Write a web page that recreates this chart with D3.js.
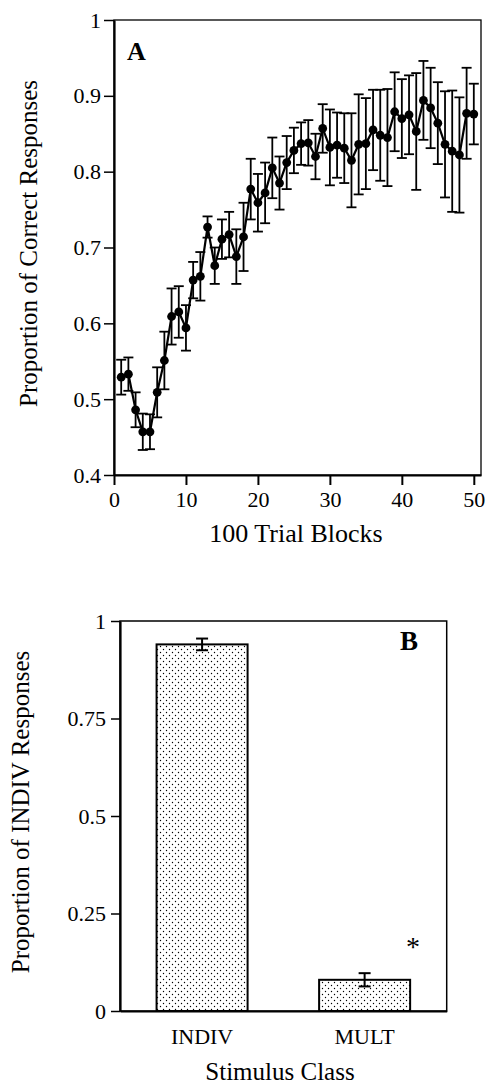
<!DOCTYPE html>
<html>
<head>
<meta charset="utf-8">
<script src="https://cdn.jsdelivr.net/npm/d3@7"></script>
<style>
  body { margin: 0; background: #fff; }
  svg text { font-family: "Liberation Serif", "Times New Roman", serif; fill: #000; }
  .axis path, .axis line { stroke: #000; }
</style>
</head>
<body>
<div id="chart"></div>
<script>
// panel A: proportion correct per 100-trial block (mean, error)
const blocks = d3.range(1, 51);
const correct = [0.529, 0.533, 0.486, 0.457, 0.457, 0.509, 0.551, 0.609, 0.615, 0.594,
  0.657, 0.662, 0.727, 0.676, 0.711, 0.717, 0.688, 0.714, 0.777, 0.759,
  0.772, 0.805, 0.785, 0.812, 0.828, 0.837, 0.838, 0.82, 0.857, 0.832,
  0.835, 0.831, 0.815, 0.836, 0.837, 0.855, 0.848, 0.845, 0.879, 0.87,
  0.875, 0.853, 0.894, 0.884, 0.864, 0.836, 0.827, 0.822, 0.877, 0.876];
const correctErr = [0.023, 0.022, 0.023, 0.024, 0.023, 0.033, 0.038, 0.037, 0.034, 0.03,
  0.024, 0.032, 0.014, 0.024, 0.026, 0.03, 0.036, 0.045, 0.04, 0.038,
  0.04, 0.04, 0.035, 0.035, 0.03, 0.028, 0.03, 0.03, 0.032, 0.05,
  0.043, 0.046, 0.062, 0.066, 0.06, 0.053, 0.06, 0.064, 0.052, 0.052,
  0.052, 0.077, 0.052, 0.053, 0.054, 0.07, 0.08, 0.076, 0.06, 0.04];
const xTicksA = [0, 10, 20, 30, 40, 50];
const yTicksA = [0.4, 0.5, 0.6, 0.7, 0.8, 0.9, 1];

// panel B: proportion of INDIV responses by stimulus class
const classes = ['INDIV', 'MULT'];
const indivProp = [0.94, 0.08];
const indivErr = [0.015, 0.017];
const yTicksB = [0, 0.25, 0.5, 0.75, 1];

const svg = d3.select('#chart').append('svg')
    .attr('width', 487)
    .attr('height', 1089);

const defs = svg.append('defs');
const pat = defs.append('pattern')
    .attr('id', 'dots')
    .attr('patternUnits', 'userSpaceOnUse')
    .attr('width', 6)
    .attr('height', 6);
pat.append('rect').attr('width', 6).attr('height', 6).attr('fill', '#fff');
pat.append('circle').attr('cx', 1.5).attr('cy', 1.5).attr('r', 0.7).attr('fill', '#000');
pat.append('circle').attr('cx', 4.5).attr('cy', 4.5).attr('r', 0.7).attr('fill', '#000');

// ---------- panel A ----------
const xA = d3.scaleLinear().domain([0, 51]).range([114, 481]);
const yA = d3.scaleLinear().domain([0.4, 1]).range([475, 20]);

svg.append('rect')
    .attr('x', xA(0)).attr('y', yA(1))
    .attr('width', xA(51) - xA(0)).attr('height', yA(0.4) - yA(1))
    .attr('fill', 'none').attr('stroke', '#000').attr('stroke-width', 1.3);

const xAxisA = svg.append('g')
    .attr('class', 'axis')
    .attr('transform', `translate(0, ${yA(0.4)})`)
    .call(d3.axisBottom(xA).tickValues(xTicksA).tickSize(10).tickPadding(6).tickSizeOuter(0));
xAxisA.select('.domain').attr('stroke-width', 2.2);
xAxisA.selectAll('line').attr('stroke-width', 2);
xAxisA.selectAll('text').attr('font-size', 22);

const yAxisA = svg.append('g')
    .attr('class', 'axis')
    .attr('transform', `translate(${xA(0)}, 0)`)
    .call(d3.axisLeft(yA).tickValues(yTicksA).tickFormat(d3.format('')).tickSize(10).tickPadding(3).tickSizeOuter(0));
yAxisA.select('.domain').attr('stroke-width', 2.2);
yAxisA.selectAll('line').attr('stroke-width', 1.5);
yAxisA.selectAll('text').attr('font-size', 22);

const dataA = blocks.map((b, i) => ({b: b, m: correct[i], e: correctErr[i]}));

const errA = svg.append('g').attr('stroke', '#000').attr('stroke-width', 1.8);
dataA.forEach(d => {
  errA.append('line')
      .attr('x1', xA(d.b)).attr('x2', xA(d.b))
      .attr('y1', yA(d.m - d.e)).attr('y2', yA(d.m + d.e));
  [d.m - d.e, d.m + d.e].forEach(v => {
    errA.append('line')
        .attr('x1', xA(d.b) - 5).attr('x2', xA(d.b) + 5)
        .attr('y1', yA(v)).attr('y2', yA(v));
  });
});

svg.append('path')
    .datum(dataA)
    .attr('fill', 'none')
    .attr('stroke', '#000')
    .attr('stroke-width', 2.2)
    .attr('d', d3.line().x(d => xA(d.b)).y(d => yA(d.m)));

svg.selectAll('circle.pt')
    .data(dataA)
    .enter()
    .append('circle')
    .attr('class', 'pt')
    .attr('cx', d => xA(d.b))
    .attr('cy', d => yA(d.m))
    .attr('r', 4.4)
    .attr('fill', '#000');

svg.append('text')
    .attr('x', 127).attr('y', 60)
    .attr('font-size', 26).attr('font-weight', 'bold')
    .text('A');

svg.append('text')
    .attr('x', 296).attr('y', 542)
    .attr('text-anchor', 'middle')
    .attr('font-size', 26)
    .text('100 Trial Blocks');

svg.append('text')
    .attr('transform', `translate(37, ${(yA(0.4) + yA(1)) / 2 - 4}) rotate(-90)`)
    .attr('text-anchor', 'middle')
    .attr('font-size', 25)
    .text('Proportion of Correct Responses');

// ---------- panel B ----------
const xB = d3.scaleBand().domain(classes).range([120, 446.7]).paddingInner(0.44).paddingOuter(0.225);
const yB = d3.scaleLinear().domain([0, 1]).range([1011, 621]);

svg.append('rect')
    .attr('x', 120).attr('y', yB(1))
    .attr('width', 326.7).attr('height', yB(0) - yB(1))
    .attr('fill', 'none').attr('stroke', '#000').attr('stroke-width', 1.5);

const yAxisB = svg.append('g')
    .attr('class', 'axis')
    .attr('transform', 'translate(120, 0)')
    .call(d3.axisLeft(yB).tickValues(yTicksB).tickFormat(d3.format('')).tickSize(9).tickPadding(5).tickSizeOuter(0));
yAxisB.select('.domain').attr('stroke-width', 2.2);
yAxisB.selectAll('line').attr('stroke-width', 1.5);
yAxisB.selectAll('text').attr('font-size', 22);

const xAxisB = svg.append('g')
    .attr('class', 'axis')
    .attr('transform', `translate(0, ${yB(0)})`)
    .call(d3.axisBottom(xB).tickSize(0).tickPadding(17).tickSizeOuter(0));
xAxisB.select('.domain').attr('stroke-width', 2.2);
xAxisB.selectAll('text').attr('font-size', 22);

svg.selectAll('rect.bar')
    .data(classes)
    .enter()
    .append('rect')
    .attr('class', 'bar')
    .attr('x', d => xB(d))
    .attr('y', (d, i) => yB(indivProp[i]))
    .attr('width', xB.bandwidth())
    .attr('height', (d, i) => yB(0) - yB(indivProp[i]))
    .attr('fill', 'url(#dots)')
    .attr('stroke', '#000')
    .attr('stroke-width', 2);

const errB = svg.append('g').attr('stroke', '#000').attr('stroke-width', 2);
classes.forEach((c, i) => {
  const cx = xB(c) + xB.bandwidth() / 2;
  errB.append('line')
      .attr('x1', cx).attr('x2', cx)
      .attr('y1', yB(indivProp[i] - indivErr[i])).attr('y2', yB(indivProp[i] + indivErr[i]));
  [indivProp[i] - indivErr[i], indivProp[i] + indivErr[i]].forEach(v => {
    errB.append('line')
        .attr('x1', cx - 6).attr('x2', cx + 6)
        .attr('y1', yB(v)).attr('y2', yB(v));
  });
});

svg.append('text')
    .attr('x', 400).attr('y', 650)
    .attr('font-size', 27).attr('font-weight', 'bold')
    .text('B');

svg.append('text')
    .attr('x', 413).attr('y', 956)
    .attr('text-anchor', 'middle')
    .attr('font-size', 28)
    .text('*');

svg.append('text')
    .attr('x', 280).attr('y', 1080)
    .attr('text-anchor', 'middle')
    .attr('font-size', 25)
    .text('Stimulus Class');

svg.append('text')
    .attr('transform', `translate(29, ${(yB(0) + yB(1)) / 2 - 4}) rotate(-90)`)
    .attr('text-anchor', 'middle')
    .attr('font-size', 25)
    .text('Proportion of INDIV Responses');
</script>
</body>
</html>
